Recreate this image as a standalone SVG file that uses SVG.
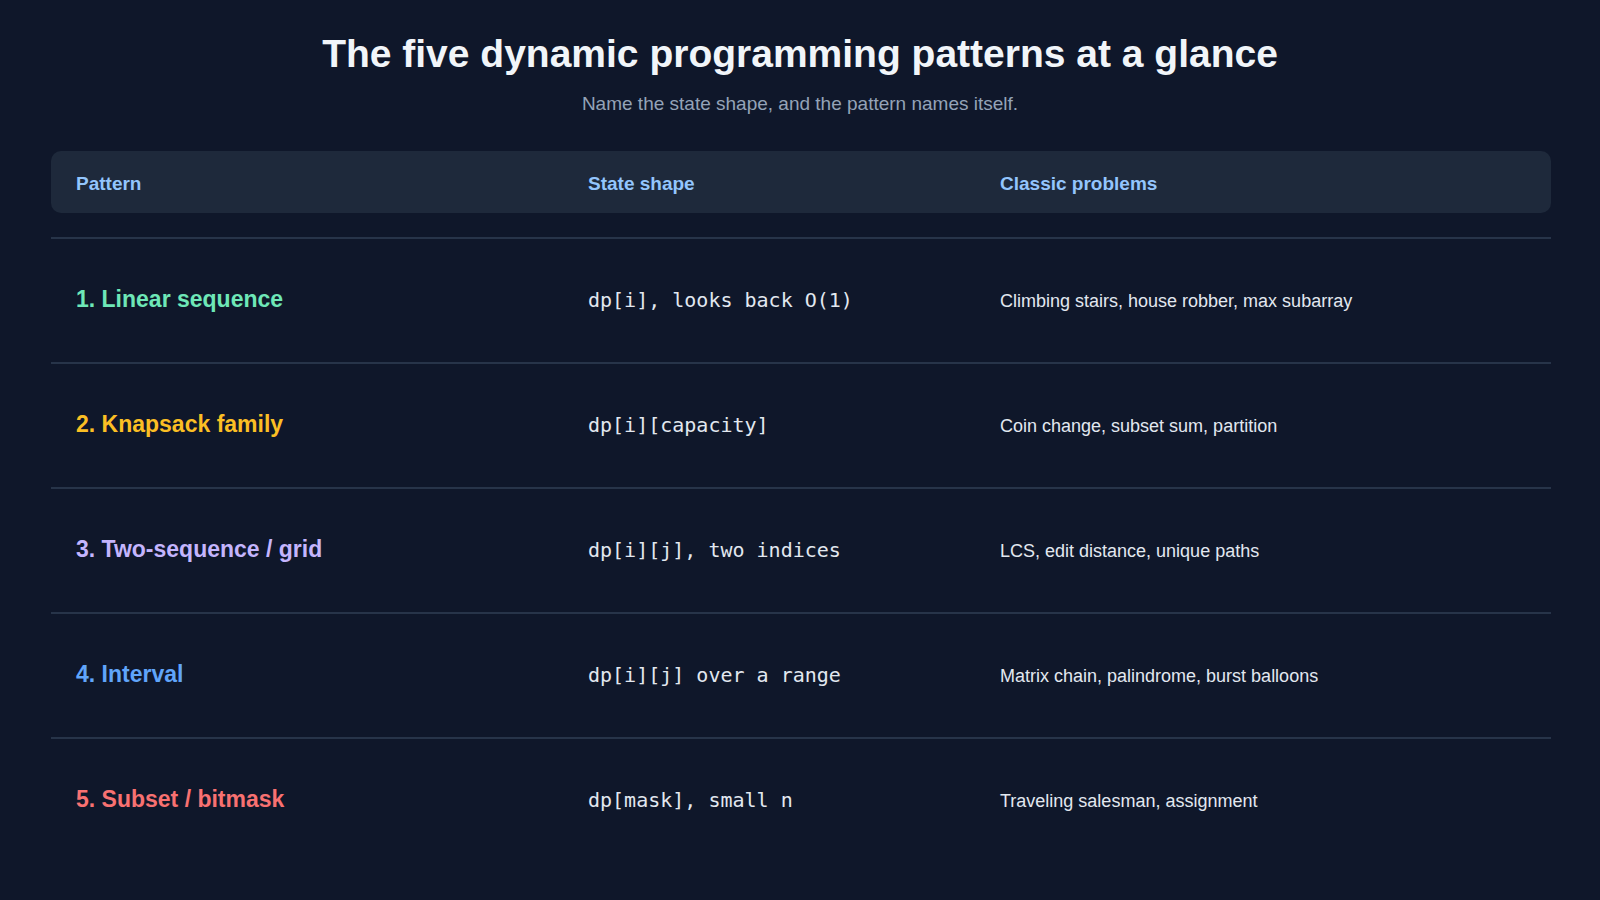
<svg xmlns="http://www.w3.org/2000/svg" width="1600" height="900" viewBox="0 0 1600 900">
<style>
.t{font-family:"Liberation Sans",Arial,sans-serif;font-weight:bold;font-size:39px;fill:#f1f5f9}
.s{font-family:"Liberation Sans",Arial,sans-serif;font-size:19px;fill:#94a3b8}
.h{font-family:"Liberation Sans",Arial,sans-serif;font-weight:bold;font-size:19px;fill:#93c5fd}
.p{font-family:"Liberation Sans",Arial,sans-serif;font-weight:bold;font-size:23px}
.m{font-family:"DejaVu Sans Mono",monospace;font-size:20px;fill:#e2e8f0}
.c{font-family:"Liberation Sans",Arial,sans-serif;font-size:18px;fill:#e2e8f0}
.l{stroke:#273449;stroke-width:2}
</style>
<rect width="1600" height="900" fill="#0f172a"/>
<text class="t" x="800" y="67" text-anchor="middle">The five dynamic programming patterns at a glance</text>
<text class="s" x="800" y="110" text-anchor="middle">Name the state shape, and the pattern names itself.</text>
<g id="header">
<rect x="51" y="151" width="1500" height="62" rx="10" fill="#1e293b"/>
<text class="h" x="76" y="190">Pattern</text>
<text class="h" x="588" y="190">State shape</text>
<text class="h" x="1000" y="190">Classic problems</text>
</g>
<g id="lines">
<line class="l" x1="51" y1="238" x2="1551" y2="238"/>
<line class="l" x1="51" y1="363" x2="1551" y2="363"/>
<line class="l" x1="51" y1="488" x2="1551" y2="488"/>
<line class="l" x1="51" y1="613" x2="1551" y2="613"/>
<line class="l" x1="51" y1="738" x2="1551" y2="738"/>
</g>
<g id="row1"><text class="p" x="76" y="307" fill="#6ee7b7">1. Linear sequence</text><text class="m" x="588" y="307">dp[i], looks back O(1)</text><text class="c" x="1000" y="307">Climbing stairs, house robber, max subarray</text></g>
<g id="row2"><text class="p" x="76" y="432" fill="#fbbf24">2. Knapsack family</text><text class="m" x="588" y="432">dp[i][capacity]</text><text class="c" x="1000" y="432">Coin change, subset sum, partition</text></g>
<g id="row3"><text class="p" x="76" y="557" fill="#c4b5fd">3. Two-sequence / grid</text><text class="m" x="588" y="557">dp[i][j], two indices</text><text class="c" x="1000" y="557">LCS, edit distance, unique paths</text></g>
<g id="row4"><text class="p" x="76" y="682" fill="#60a5fa">4. Interval</text><text class="m" x="588" y="682">dp[i][j] over a range</text><text class="c" x="1000" y="682">Matrix chain, palindrome, burst balloons</text></g>
<g id="row5"><text class="p" x="76" y="807" fill="#f87171">5. Subset / bitmask</text><text class="m" x="588" y="807">dp[mask], small n</text><text class="c" x="1000" y="807">Traveling salesman, assignment</text></g>
</svg>
